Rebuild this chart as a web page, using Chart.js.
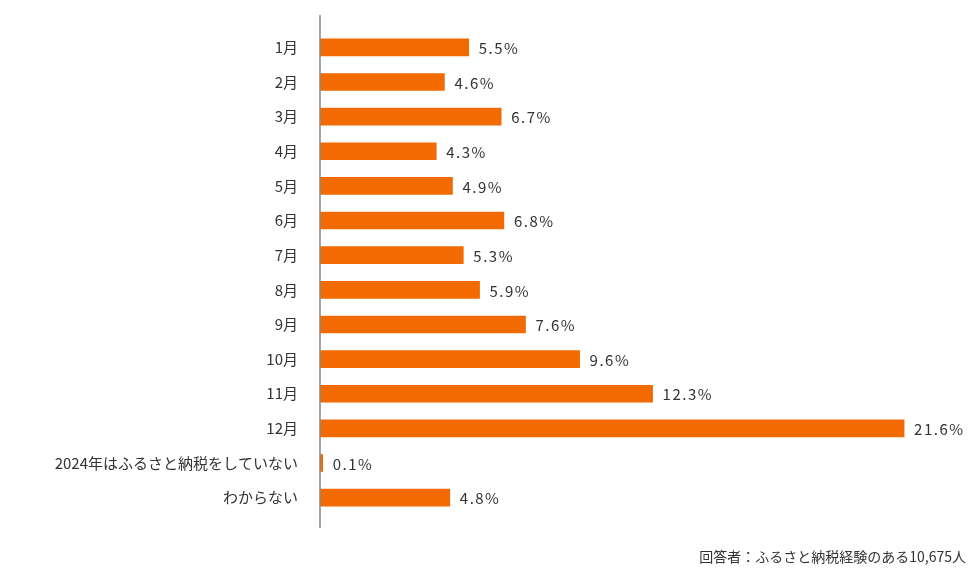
<!DOCTYPE html>
<html><head><meta charset="utf-8">
<script src="https://cdn.jsdelivr.net/npm/chart.js@4"></script>
<style>body{margin:0;background:#fff}#wrap{width:980px;height:588px;position:relative}</style>
</head><body>
<div id="wrap"><canvas id="c"></canvas></div>
<script>
const categories = ['1月','2月','3月','4月','5月','6月','7月','8月','9月','10月','11月','12月','2024年はふるさと納税をしていない','わからない'];
const values = [5.5,4.6,6.7,4.3,4.9,6.8,5.3,5.9,7.6,9.6,12.3,21.6,0.1,4.8];
const note = '回答者：ふるさと納税経験のある10,675人';
const FONT = '"Noto Sans CJK JP", "Noto Sans", sans-serif';

const extras = {
  id: 'extras',
  afterDatasetsDraw(chart) {
    const ctx = chart.ctx, meta = chart.getDatasetMeta(0), x = chart.scales.x;
    ctx.save();
    ctx.fillStyle = '#333';
    ctx.font = '15px ' + FONT;
    ctx.textBaseline = 'middle';
    ctx.letterSpacing = '1.5px';
    meta.data.forEach((bar, i) => ctx.fillText(values[i].toFixed(1) + '%', bar.x + 10, bar.y + 1));
    // axis line
    ctx.strokeStyle = '#888'; ctx.lineWidth = 1.5;
    ctx.beginPath(); ctx.moveTo(x.left, 15); ctx.lineTo(x.left, 528); ctx.stroke();
    ctx.letterSpacing = '0px';
    ctx.font = '14px ' + FONT; ctx.textAlign = 'right';
    ctx.fillText(note, 966, 557);
    ctx.restore();
  }
};

new Chart(document.getElementById('c'), {
  type: 'bar',
  data: { labels: categories, datasets: [{ data: values, backgroundColor: '#f26a00', barThickness: 17 }] },
  options: {
    indexAxis: 'y', responsive: true, maintainAspectRatio: false, animation: false,
    layout: { padding: { top: 30, bottom: 73, right: 11 } },
    plugins: { legend: { display: false }, tooltip: { enabled: false } },
    scales: {
      x: { min: 0, max: 24, display: false },
      y: {
        grid: { display: false }, border: { display: false },
        afterFit(s) { s.width = 320; },
        ticks: { color: '#333', font: { size: 15, family: FONT }, padding: 14 }
      }
    }
  },
  plugins: [extras]
});
</script>
</body></html>
